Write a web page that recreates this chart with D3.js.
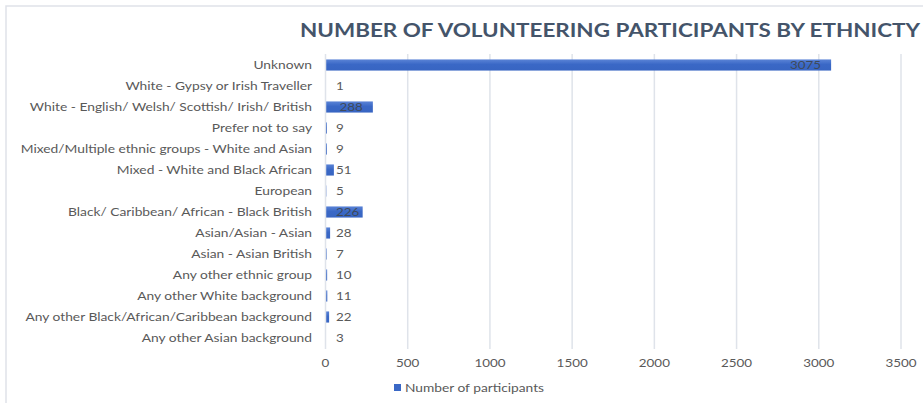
<!DOCTYPE html>
<html>
<head>
<meta charset="utf-8">
<script src="https://cdn.jsdelivr.net/npm/d3@7"></script>
<style>
  html, body { margin: 0; padding: 0; background: #fff; }
  svg { display: block; }
  text { font-family: Lato, "Open Sans", sans-serif; }
</style>
</head>
<body>
<svg id="chart" width="923" height="403"></svg>
<script>
// Participants per ethnicity, listed top to bottom as drawn
const categories = [
  "Unknown",
  "White - Gypsy or Irish Traveller",
  "White - English/ Welsh/ Scottish/ Irish/ British",
  "Prefer not to say",
  "Mixed/Multiple ethnic groups - White and Asian",
  "Mixed - White and Black African",
  "European",
  "Black/ Caribbean/ African - Black British",
  "Asian/Asian - Asian",
  "Asian - Asian British",
  "Any other ethnic group",
  "Any other White background",
  "Any other Black/African/Caribbean background",
  "Any other Asian background"
];
const participants = [3075, 1, 288, 9, 9, 51, 5, 226, 28, 7, 10, 11, 22, 3];
const xTicks = [0, 500, 1000, 1500, 2000, 2500, 3000, 3500];
const titleText = "NUMBER OF VOLUNTEERING PARTICIPANTS BY ETHNICTY";
const seriesName = "Number of participants";

const svg = d3.select("#chart");
const W = 923, H = 403;
const labelGray = "#595959";
const gridGray = "#dfe3ea";
const barBlue = "#3a68c6";

svg.append("rect").attr("width", W).attr("height", H).attr("fill", "#fff");

// Chart frame (left and top edges visible)
svg.append("path")
  .attr("d", `M6,${H} L6,6 L${W},6`)
  .attr("fill", "none")
  .attr("stroke", "#dfe2e9")
  .attr("stroke-width", 1.5);

// Title
svg.append("text")
  .attr("x", 300).attr("y", 36.5)
  .attr("textLength", 620)
  .attr("lengthAdjust", "spacingAndGlyphs")
  .attr("font-size", 18)
  .attr("font-weight", 700)
  .attr("fill", "#44546a")
  .text(titleText);

const x = d3.scaleLinear().domain([0, 3500]).range([325.5, 901]);
const y = d3.scaleBand().domain(categories).range([54.5, 348.5]).paddingInner(0.47).paddingOuter(0.235);

// Stretched text helper
function stretchedText(g, px, py, anchor, size, color, str, sx) {
  return g.append("text")
    .attr("transform", `translate(${px},${py}) scale(${sx},1)`)
    .attr("text-anchor", anchor)
    .attr("dominant-baseline", "central")
    .attr("font-size", size)
    .attr("fill", color)
    .text(str);
}

// Vertical gridlines (behind the bars)
svg.append("g")
  .selectAll("line")
  .data(xTicks.filter(t => t !== 0))
  .join("line")
  .attr("x1", d => x(d)).attr("x2", d => x(d))
  .attr("y1", 54).attr("y2", 349)
  .attr("stroke", gridGray)
  .attr("stroke-width", 1.5);

// Bars
const defs = svg.append("defs");
const grad = defs.append("linearGradient").attr("id", "barGrad")
  .attr("x1", 0).attr("y1", 0).attr("x2", 0).attr("y2", 1);
grad.append("stop").attr("offset", "0%").attr("stop-color", "#5a83d6");
grad.append("stop").attr("offset", "45%").attr("stop-color", "#3a68c6");
grad.append("stop").attr("offset", "100%").attr("stop-color", "#3865c2");

const data = categories.map((c, i) => ({ cat: c, value: participants[i] }));

svg.append("g")
  .selectAll("rect")
  .data(data)
  .join("rect")
  .attr("x", x(0))
  .attr("y", d => y(d.cat))
  .attr("width", d => x(d.value) - x(0))
  .attr("height", y.bandwidth())
  .attr("fill", "url(#barGrad)");

// Category axis line at zero, over the bar bases
svg.append("line")
  .attr("x1", x(0)).attr("x2", x(0))
  .attr("y1", 54).attr("y2", 349)
  .attr("stroke", gridGray)
  .attr("stroke-width", 1.5);

// X tick labels
const xAxisG = svg.append("g");
xTicks.forEach(t => stretchedText(xAxisG, x(t), 363, "middle", 11, labelGray, d3.format("d")(t), 1.22));

// Category labels
const catG = svg.append("g");
categories.forEach(c => stretchedText(catG, 312, y(c) + y.bandwidth() / 2, "end", 11, labelGray, c, 1.255));

// Value labels: tucked inside the end of long bars, else just past the axis
const valG = svg.append("g");
data.forEach(d => {
  const cy = y(d.cat) + y.bandwidth() / 2;
  const t = stretchedText(valG, 0, cy, "start", 11, labelGray, String(d.value), 1.22);
  const w = t.node().getComputedTextLength() * 1.22;
  const start = Math.max(x(d.value) - 10 - w, x(0) + 10.5);
  const inside = start + w < x(d.value);
  t.attr("transform", `translate(${start},${cy}) scale(1.22,1)`)
   .attr("fill", inside ? "#3f4a5a" : labelGray);
});

// Legend
const leg = svg.append("g");
leg.append("rect").attr("x", 394).attr("y", 384).attr("width", 7).attr("height", 7).attr("fill", barBlue);
stretchedText(leg, 405, 388, "start", 11, labelGray, seriesName, 1.25);
</script>
</body>
</html>
